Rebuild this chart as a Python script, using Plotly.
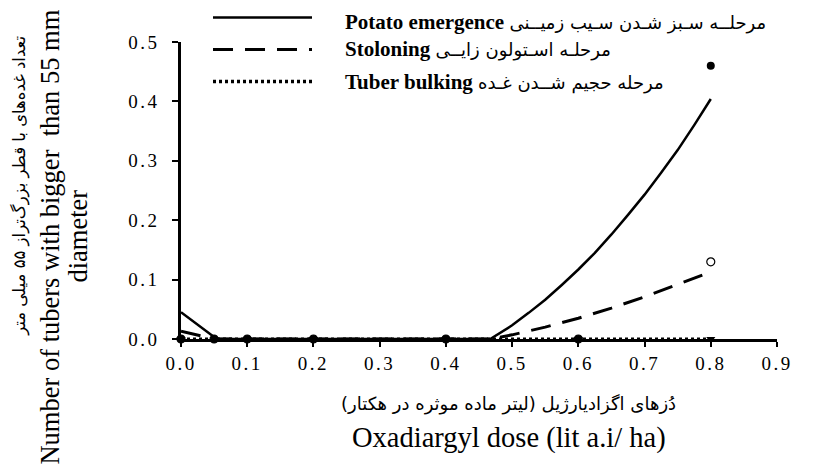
import plotly.graph_objects as go

# Observed data (dose, lit a.i./ha)
doses = [0.0, 0.05, 0.1, 0.2, 0.4, 0.6, 0.8]
obs_emergence = [0, 0, 0, 0, 0, 0, 0.46]
obs_stoloning = [0, 0, 0, 0, 0, 0, 0.13]
obs_bulking = [0, 0, 0, 0, 0, 0, 0]

# Fitted curves
fit_em_x = [0.0, 0.054, 0.467, 0.5, 0.525, 0.55, 0.575, 0.6, 0.625, 0.65, 0.675, 0.7, 0.725, 0.75, 0.775, 0.8]
fit_em_y = [0.045, 0.0, 0.0, 0.023, 0.044, 0.066, 0.091, 0.117, 0.145, 0.176, 0.209, 0.243, 0.280, 0.318, 0.360, 0.404]
fit_st_x = [0.0, 0.05, 0.467, 0.5, 0.55, 0.6, 0.65, 0.7, 0.75, 0.8]
fit_st_y = [0.013, 0.0, 0.0, 0.007, 0.020, 0.035, 0.052, 0.071, 0.092, 0.113]
fit_bu_x = [0.0, 0.8]
fit_bu_y = [0.0, 0.0]

x_ticks = [0.0, 0.1, 0.2, 0.3, 0.4, 0.5, 0.6, 0.7, 0.8, 0.9]
x_tick_labels = ["0.0", "0.1", "0.2", "0.3", "0.4", "0.5", "0.6", "0.7", "0.8", "0.9"]
y_ticks = [0.0, 0.1, 0.2, 0.3, 0.4, 0.5]
y_tick_labels = ["0.0", "0.1", "0.2", "0.3", "0.4", "0.5"]

legend_en = ["Potato emergence", "Stoloning", "Tuber bulking"]
legend_fa = ["مرحلــه سـبز شـدن سـیب زمیــنی", "مرحلـه اسـتولون زایــی", "مرحله حجیم شــدن غـده"]
x_title_fa = "دُزهای اگزادیارژیل (لیتر ماده موثره در هکتار)"
x_title_en = "Oxadiargyl dose (lit a.i/ ha)"
y_title_fa = "تعداد غده‌های با قطر بزرگ‌تراز ۵۵ میلی متر"
y_title_en_1 = "Number of tubers with bigger  than 55 mm"
y_title_en_2 = "diameter"

SERIF = "Liberation Serif"
SANS = "DejaVu Sans"


def spaced(t):
    return f"<span style='letter-spacing:2.5px'>{t}</span>"


fig = go.Figure()

fig.add_trace(go.Scatter(x=fit_em_x, y=fit_em_y, mode="lines",
                         line=dict(color="black", width=2.5), showlegend=False))
fig.add_trace(go.Scatter(x=fit_st_x, y=fit_st_y, mode="lines",
                         line=dict(color="black", width=3, dash="20px,12px"), showlegend=False))
fig.add_trace(go.Scatter(x=fit_bu_x, y=fit_bu_y, mode="lines",
                         line=dict(color="black", width=3, dash="3px,3px"), showlegend=False))

fig.add_trace(go.Scatter(x=doses, y=obs_emergence, mode="markers", cliponaxis=False,
                         marker=dict(symbol="circle", size=8, color="black"), showlegend=False))
fig.add_trace(go.Scatter(x=doses, y=obs_stoloning, mode="markers", cliponaxis=False,
                         marker=dict(symbol="circle-open", size=8, color="black",
                                     line=dict(width=1.2, color="black")), showlegend=False))
fig.add_trace(go.Scatter(x=doses, y=obs_bulking, mode="markers", cliponaxis=False,
                         marker=dict(symbol="triangle-down", size=8, color="black"), showlegend=False))

# Manual legend (long line samples as in the original)
line_y = [1.0825, 0.975, 0.867]
text_y = [1.069, 0.975, 0.867]
dashes = ["solid", "20px,12px", "3px,3px"]
widths = [2.5, 3, 3.5]
for ly, ty, dsh, wd, en, fa in zip(line_y, text_y, dashes, widths, legend_en, legend_fa):
    fig.add_shape(type="line", xref="paper", yref="paper", x0=0.0537, x1=0.2198, y0=ly, y1=ly,
                  line=dict(color="black", width=wd, dash=dsh))
    lab = (f"<b>{en}</b> <span style='font-family:DejaVu Sans;font-size:18px'>{fa}</span>")
    fig.add_annotation(xref="paper", yref="paper", x=0.2718, y=ty, xanchor="left", yanchor="middle",
                       text=lab, showarrow=False,
                       font=dict(family=SERIF, size=21, color="black"))

# Axis titles
fig.add_annotation(xref="paper", yref="paper", x=0.55, y=-0.22, xanchor="center", yanchor="middle",
                   text=x_title_fa, showarrow=False,
                   font=dict(family=SANS, size=18, color="black"))
fig.add_annotation(xref="paper", yref="paper", x=0.55, y=-0.332, xanchor="center", yanchor="middle",
                   text=x_title_en, showarrow=False, font=dict(family=SERIF, size=28.5, color="black"))
fig.add_annotation(xref="paper", yref="paper", x=-0.27, y=0.516, xanchor="center", yanchor="middle",
                   text=y_title_fa, textangle=-90, showarrow=False,
                   font=dict(family=SANS, size=16.5, color="black"))
fig.add_annotation(xref="paper", yref="paper", x=-0.2198, y=0.345, xanchor="center", yanchor="middle",
                   text=y_title_en_1, textangle=-90, showarrow=False,
                   font=dict(family=SERIF, size=26.5, color="black"))
fig.add_annotation(xref="paper", yref="paper", x=-0.1728, y=0.345, xanchor="center", yanchor="middle",
                   text=y_title_en_2, textangle=-90, showarrow=False,
                   font=dict(family=SERIF, size=26.5, color="black"))

# the page body has an 8px margin, so the figure is 8px smaller and margins shifted
fig.update_layout(
    width=814, height=463,
    margin=dict(l=173, r=45, t=34, b=132),
    paper_bgcolor="white", plot_bgcolor="white",
    font=dict(family=SERIF, size=19, color="black"),
    showlegend=False,
)
fig.update_xaxes(range=[0, 0.9], tickvals=x_ticks, ticktext=[spaced(t) for t in x_tick_labels],
                 showline=True, linecolor="black", linewidth=2.5,
                 ticks="outside", ticklen=5, tickwidth=1.5, tickcolor="black",
                 showgrid=False, zeroline=False, tickfont=dict(family=SERIF, size=19))
fig.update_yaxes(range=[0, 0.5], tickvals=y_ticks, ticktext=[spaced(t) for t in y_tick_labels],
                 showline=True, linecolor="black", linewidth=2.5,
                 ticks="outside", ticklen=6, tickwidth=1.5, tickcolor="black",
                 ticklabelstandoff=9,
                 showgrid=False, zeroline=False, tickfont=dict(family=SERIF, size=19))

fig.write_html("out.html")
